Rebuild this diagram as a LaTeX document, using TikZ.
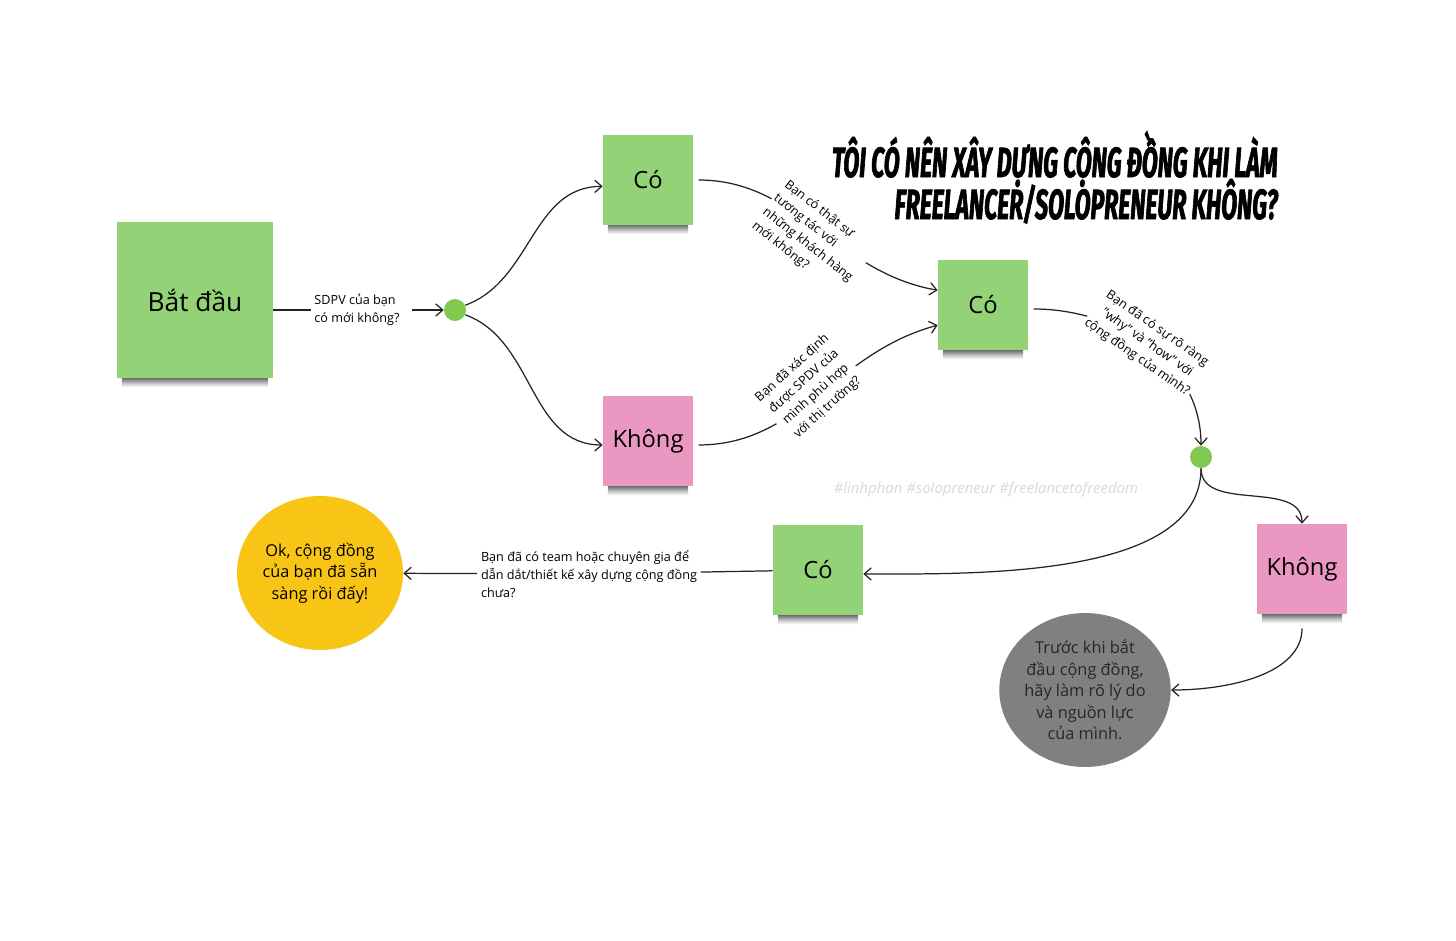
\documentclass[tikz,border=0pt]{standalone}
\usepackage{fontspec}
\setmainfont{Open Sans}
\newfontfamily\titlefont[FakeStretch=0.55,FakeBold=1.5]{Fira Sans}
\usetikzlibrary{shapes.geometric,arrows.meta}
\definecolor{notegreen}{RGB}{147,210,118}
\definecolor{notepink}{RGB}{234,152,194}
\definecolor{dotgreen}{RGB}{128,200,80}
\definecolor{okyellow}{RGB}{248,197,22}
\definecolor{tipgray}{RGB}{128,128,128}
\definecolor{linec}{RGB}{35,35,35}
\tikzstyle{note}=[rectangle,fill=notegreen,minimum size=1.8cm,inner sep=0pt,font=\fontsize{13.5}{16}\selectfont]
\tikzstyle{pnote}=[note,fill=notepink]
\tikzstyle{shd}=[top color=black!55,bottom color=white,middle color=black!25]
\tikzstyle{dt}=[circle,fill=dotgreen,minimum size=.44cm,inner sep=0pt]
\tikzstyle{lbl}=[inner sep=2pt,font=\fontsize{7.2}{10.2}\selectfont]
\tikzstyle{rlbl}=[inner sep=1pt,fill=white,font=\fontsize{7.2}{10}\selectfont]
\tikzstyle{rnd}=[ellipse,minimum width=3.32cm,minimum height=3.08cm,inner sep=0pt,align=center,font=\fontsize{9.3}{12.2}\selectfont]
\tikzstyle{ln}=[draw=linec,line width=.7pt]
\tikzstyle{arr}=[ln,-{Straight Barb[length=4pt,width=7pt]}]

\begin{document}
\begin{tikzpicture}[x=.02cm,y=-.02cm]
\fill[white] (0,0) rectangle (1456,940);
\useasboundingbox (0,0) rectangle (1456,940);

\node[note,minimum size=3.12cm,font=\fontsize{15}{18}\selectfont] (b) at (195,300) {Bắt đầu};
\node[lbl,align=left] (q1) at (357,310) {SDPV của bạn\\có mới không?};
\node[dt] (d1) at (455,310) {};
\node[note] (c1) at (648,180) {Có};
\node[pnote] (k1) at (648,441) {Không};
\node[note] (c2) at (983,305) {Có};
\node[dt] (d2) at (1201,457) {};
\node[note] (c3) at (818,570) {Có};
\node[pnote] (k2) at (1302,569) {Không};
\node[rnd,fill=okyellow] (ok) at (320,573) {Ok, cộng đồng\\của bạn đã sẵn\\sàng rồi đấy!};
\node[rnd,fill=tipgray,text=black!85] (tr) at (1085,690) {Trước khi bắt\\đầu cộng đồng,\\hãy làm rõ lý do\\và nguồn lực\\của mình.};
\node[lbl,align=left] (q4) at (589,574) {Bạn đã có team hoặc chuyên gia để\\dẫn dắt/thiết kế xây dựng cộng đồng\\chưa?};

\foreach \n in {b,c1,k1,c2,c3,k2}
  \shade[shd] ([xshift=3pt]\n.south west) rectangle ([xshift=-3pt,yshift=-5pt]\n.south east);

\draw[arr,shorten <=5pt] (b.east|-q1) -- (q1) -- (d1);
\draw[arr] (d1.25) to[out=20,in=180] (c1.188);
\draw[arr] (d1.-25) to[out=-20,in=180] (k1.185);
\draw[arr,shorten <=3pt] (c1.east) to[out=0,in=170] (c2.162);
\draw[arr,shorten <=3pt] (k1.-5) to[out=0,in=195] (c2.204);
\draw[arr,shorten <=3pt] (c2.-5) to[out=0,in=90] (d2.north);
\draw[arr] (d2.south) to[out=-90,in=90] (k2.north);
\draw[arr] (d2.south) to[out=-90,in=0,looseness=.8] (c3.-5);
\draw[arr,shorten <=8pt] (k2.south) to[out=-90,in=0] (tr.east);
\draw[arr] (c3) -- (q4) -- (ok);

\node[rlbl,rotate=-38,align=left] (q2) at (813,238) {Bạn có thật sự\\tương tác với\\những khách hàng\\mới không?};
\node[rlbl,rotate=42,align=center] (q3) at (810,388) {Bạn đã xác định\\được SPDV của\\mình phù hợp\\với thị trường?};
\node[rlbl,rotate=-35,align=center] (q5) at (1147,343) {Bạn đã có sự rõ ràng\\"why" và "how" với\\cộng đồng của mình?};

\node[font=\fontsize{8.5}{9}\itshape,text=black!15] (wm) at (986,490) {\#linhphan \#solopreneur \#freelancetofreedom};
\node[anchor=base east,inner sep=0pt,font=\fontsize{24}{24}\titlefont\bfseries\itshape] (t1) at (1278,177) {TÔI CÓ NÊN XÂY DỰNG CỘNG ĐỒNG KHI LÀM};
\node[anchor=base east,inner sep=0pt,font=\fontsize{24}{24}\titlefont\bfseries\itshape] (t2) at (1278,219) {FREELANCER/SOLOPRENEUR KHÔNG?};
\end{tikzpicture}
\end{document}
